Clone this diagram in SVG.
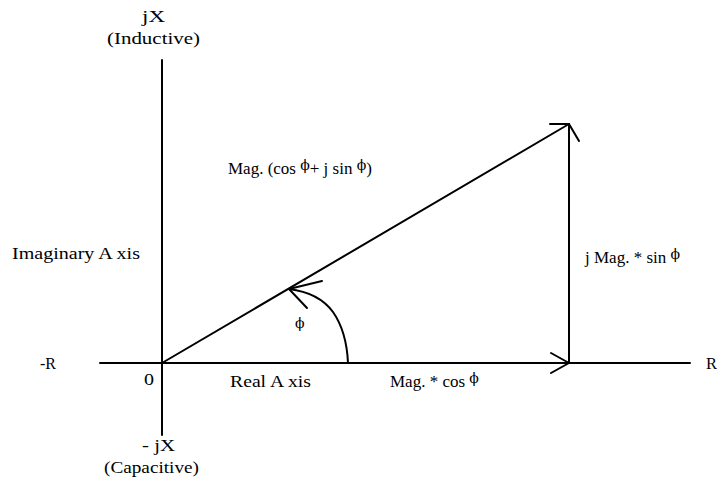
<svg xmlns="http://www.w3.org/2000/svg" width="721" height="495" viewBox="0 0 721 495">
<style>
text{font-family:"Liberation Serif","Times New Roman",serif;font-size:17px;fill:#000}
.ln{stroke:#000;stroke-width:2;fill:none;stroke-linecap:round;stroke-linejoin:round}
.ph{font-size:14px;font-family:"DejaVu Serif","Liberation Serif",serif}
</style>
<rect width="721" height="495" fill="#fff"/>
<g id="connectors">
<line class="ln" x1="162" y1="60" x2="162" y2="435"/>
<line class="ln" x1="100" y1="363" x2="690" y2="363"/>
<line class="ln" x1="162" y1="363" x2="569" y2="124"/>
<line class="ln" x1="569" y1="363" x2="569" y2="124"/>
<polyline class="ln" points="550,124 569,124 579,141"/>
<polyline class="ln" points="551,353 569,363 551,373"/>
<path class="ln" d="M348,363 C347,340 342,325 333,312 C322,297 305,291 289,289"/>
<polyline class="ln" points="322,281 289,289 307,308"/>
</g>
<g id="labels">
<text x="142" y="22" textLength="23" lengthAdjust="spacingAndGlyphs">jX</text>
<text x="107" y="44" textLength="93" lengthAdjust="spacingAndGlyphs">(Inductive)</text>
<text x="12" y="259" textLength="128" lengthAdjust="spacingAndGlyphs">Imaginary A xis</text>
<text x="40" y="369" textLength="16" lengthAdjust="spacingAndGlyphs">-R</text>
<text x="706" y="369" textLength="11" lengthAdjust="spacingAndGlyphs">R</text>
<text x="144" y="385" textLength="10" lengthAdjust="spacingAndGlyphs">0</text>
<text x="230" y="387" textLength="81" lengthAdjust="spacingAndGlyphs">Real A xis</text>
<text x="390" y="387">Mag. * cos <tspan class="ph" dy="-4">ϕ</tspan></text>
<text x="142" y="451" textLength="33" lengthAdjust="spacingAndGlyphs">- jX</text>
<text x="104" y="473" textLength="95" lengthAdjust="spacingAndGlyphs">(Capacitive)</text>
<text x="228" y="174">Mag. (cos <tspan class="ph" dy="-4">ϕ</tspan><tspan dy="4">+ j sin </tspan><tspan class="ph" dy="-4">ϕ</tspan><tspan dy="4">)</tspan></text>
<text x="585" y="263">j Mag. * sin <tspan class="ph" dy="-4">ϕ</tspan></text>
<text x="295" y="328" class="ph">ϕ</text>
</g>
</svg>
